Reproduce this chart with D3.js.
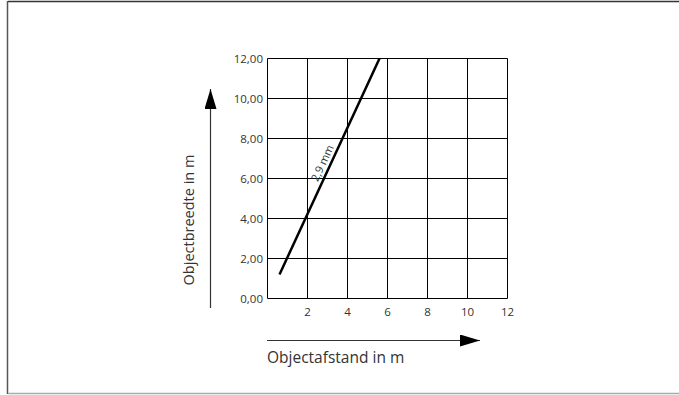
<!DOCTYPE html>
<html><head><meta charset="utf-8">
<script src="https://cdn.jsdelivr.net/npm/d3@7"></script>
<style>body{margin:0;background:#fff}svg{display:block;font-family:"Open Sans","Noto Sans",sans-serif}</style>
</head><body>
<svg id="c" width="679" height="395"></svg>
<script>
const xTicks = [2, 4, 6, 8, 10, 12];
const yTicks = [0, 2, 4, 6, 8, 10, 12];
const yTickLabels = ["0,00", "2,00", "4,00", "6,00", "8,00", "10,00", "12,00"];
const lineX = [0.6, 5.6];
const lineY = [1.2, 12];
const lineLabel = "2,9 mm";
const xTitle = "Objectafstand in m";
const yTitle = "Objectbreedte in m";

const svg = d3.select("#c");
// frame
svg.append("line").attr("x1",8).attr("x2",679).attr("y1",1.5).attr("y2",1.5).attr("stroke","#333").attr("stroke-width",1.5);
svg.append("line").attr("x1",7.5).attr("x2",7.5).attr("y1",1).attr("y2",394).attr("stroke","#555").attr("stroke-width",1.5);
svg.append("line").attr("x1",8).attr("x2",679).attr("y1",393.5).attr("y2",393.5).attr("stroke","#aaa").attr("stroke-width",1.5);

const x = d3.scaleLinear().domain([0,12]).range([267.5,507.5]);
const y = d3.scaleLinear().domain([0,12]).range([298.5,58.5]);

const g = svg.append("g");
// grid
g.selectAll(".vg").data(d3.range(0,13,2)).join("line")
  .attr("x1",d=>x(d)).attr("x2",d=>x(d)).attr("y1",y(0)).attr("y2",y(12))
  .attr("stroke","#000").attr("stroke-width",1);
g.selectAll(".hg").data(d3.range(0,13,2)).join("line")
  .attr("y1",d=>y(d)).attr("y2",d=>y(d)).attr("x1",x(0)).attr("x2",x(12))
  .attr("stroke","#000").attr("stroke-width",1);

// tick labels
g.selectAll(".yt").data(yTicks).join("text")
  .attr("x",263).attr("y",d=>y(d)).attr("dy","0.35em").attr("text-anchor","end")
  .attr("font-size",11.5).attr("fill","#333").text((d,i)=>yTickLabels[i]);
g.selectAll(".xt").data(xTicks).join("text")
  .attr("x",d=>x(d)).attr("y",312).attr("dy","0.35em").attr("text-anchor","middle")
  .attr("font-size",11.5).attr("fill","#333").text(d=>d);

// data line
const pts = lineX.map((v,i)=>[v,lineY[i]]);
g.append("path").attr("d", d3.line().x(d=>x(d[0])).y(d=>y(d[1]))(pts))
  .attr("stroke","#000").attr("stroke-width",2.5).attr("fill","none");

// label along line
const t = 0.5;
const lx = lineX[0] + t*(lineX[1]-lineX[0]);
const ly = lineY[0] + t*(lineY[1]-lineY[0]);
const ang = Math.atan2(y(lineY[1])-y(lineY[0]), x(lineX[1])-x(lineX[0]))*180/Math.PI;
g.append("text").attr("transform",`translate(${x(lx)},${y(ly)}) rotate(${ang})`)
  .attr("text-anchor","middle").attr("dy",-4).attr("font-size",11).attr("fill","#333").text(lineLabel);

// arrows
const defs = svg.append("defs");
defs.append("marker").attr("id","ah").attr("viewBox","0 0 20 12").attr("refX",20).attr("refY",6)
  .attr("markerWidth",20).attr("markerHeight",12).attr("markerUnits","userSpaceOnUse").attr("orient","auto")
  .append("path").attr("d","M0,0 L20,6 L0,12 Z").attr("fill","#000");
svg.append("line").attr("x1",210.5).attr("x2",210.5).attr("y1",308).attr("y2",89)
  .attr("stroke","#333").attr("stroke-width",1.2).attr("marker-end","url(#ah)");
svg.append("line").attr("x1",267).attr("x2",480).attr("y1",340.5).attr("y2",340.5)
  .attr("stroke","#333").attr("stroke-width",1.2).attr("marker-end","url(#ah)");

// titles
svg.append("text").attr("transform","translate(194,220) rotate(-90)").attr("text-anchor","middle")
  .attr("font-size",14.5).attr("fill","#333").text(yTitle);
svg.append("text").attr("x",267).attr("y",363).attr("font-size",15.5).attr("fill","#333").text(xTitle);
</script>
</body></html>
